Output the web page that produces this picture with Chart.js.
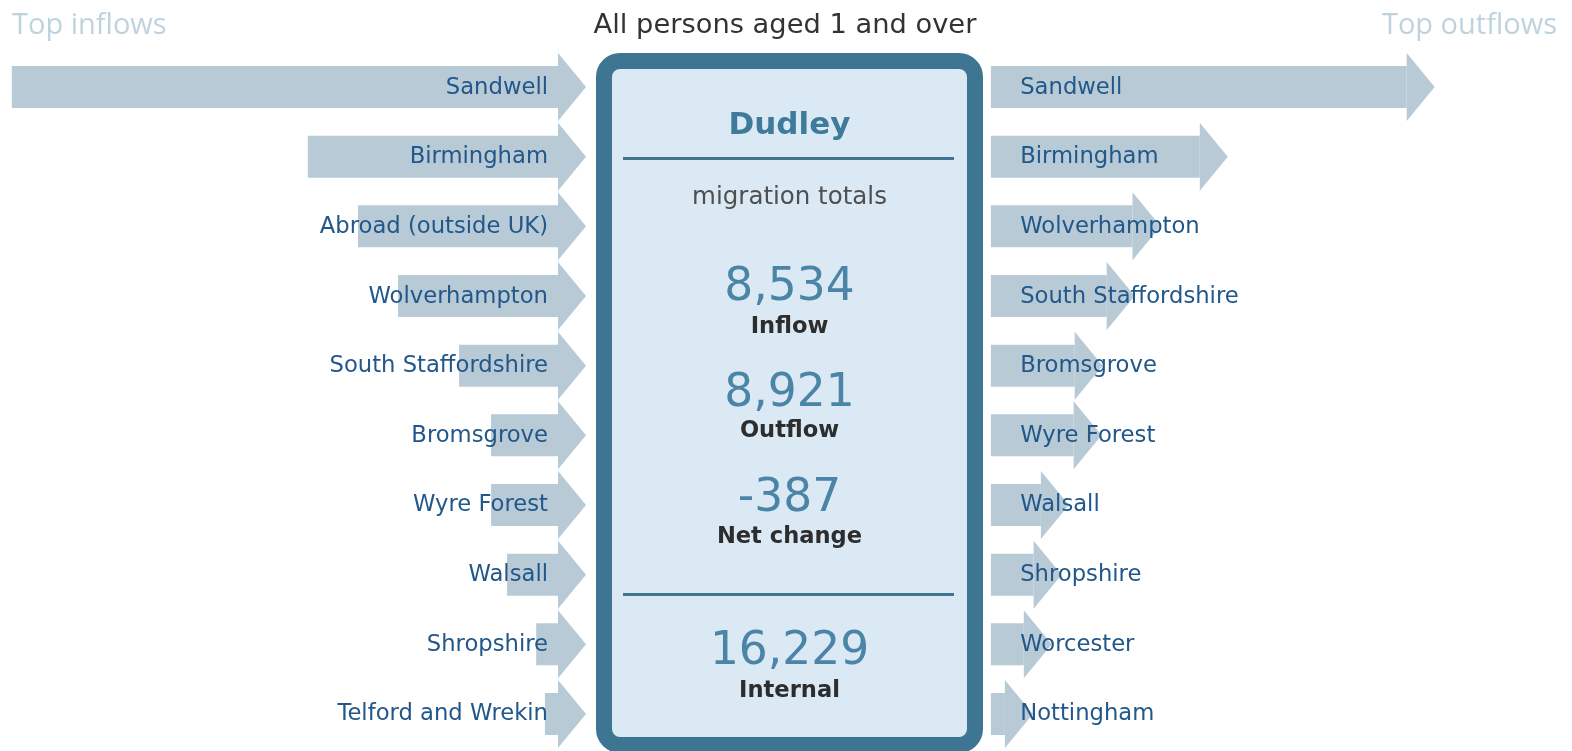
<!DOCTYPE html>
<html>
<head>
<meta charset="utf-8">
<script src="https://cdn.jsdelivr.net/npm/chart.js@4"></script>
<style>
  html, body { margin: 0; padding: 0; background: #ffffff; }
  body { width: 1572px; height: 751px; position: relative; overflow: hidden; font-family: "DejaVu Sans", Verdana, sans-serif; }
  .abs { position: absolute; white-space: nowrap; }
  #leftWrap { position: absolute; left: 0; top: 0; width: 600px; height: 751px; }
  #rightWrap { position: absolute; left: 980px; top: 0; width: 592px; height: 751px; }
  .hdr { font-family: "Open Sans", "Noto Sans", sans-serif; font-size: 29px; line-height: 29px; color: #bfd3df; top: 7.5px; }
  #title { left: 0; width: 1572px; text-align: center; font-size: 27.3px; line-height: 27.3px; color: #333333; top: 10px; }
  #title span { position: relative; left: -1px; }
  #box { position: absolute; left: 596px; top: 53px; width: 387px; height: 700px; box-sizing: border-box;
         border: 16.5px solid #3d7592; border-radius: 24px; background: #dae9f4; }
  .ctr { left: 596px; width: 387px; text-align: center; }
  .rule { position: absolute; left: 623px; width: 331px; height: 3px; background: #3d7592; }
  .big { font-size: 45.5px; line-height: 45.5px; color: #4a84a6; }
  .cap { font-size: 22.6px; line-height: 22.6px; font-weight: bold; color: #2d2d2d; }
</style>
</head>
<body>
<div id="leftWrap"><canvas id="leftChart" width="600" height="751"></canvas></div>
<div id="rightWrap"><canvas id="rightChart" width="592" height="751"></canvas></div>

<div class="abs hdr" style="left:12px;">Top inflows</div>
<div class="abs hdr" style="right:15px;">Top outflows</div>
<div class="abs" id="title"><span id="titleText"></span></div>

<div id="box"></div>
<div class="abs ctr" id="areaName" style="top:107.8px; font-size:31px; line-height:31px; font-weight:bold; color:#3e7b9b;"></div>
<div class="rule" style="top:157px;"></div>
<div class="abs ctr" id="subTitle" style="top:184.3px; font-size:24.5px; line-height:24.5px; color:#4f4f4f;"></div>
<div class="abs ctr big" id="vIn" style="top:261.5px;"></div>
<div class="abs ctr cap" id="lIn" style="top:314.2px;"></div>
<div class="abs ctr big" id="vOut" style="top:367.5px;"></div>
<div class="abs ctr cap" id="lOut" style="top:417.6px;"></div>
<div class="abs ctr big" id="vNet" style="top:472.5px;"></div>
<div class="abs ctr cap" id="lNet" style="top:524.2px;"></div>
<div class="rule" style="top:592.5px;"></div>
<div class="abs ctr big" id="vInt" style="top:625.8px;"></div>
<div class="abs ctr cap" id="lInt" style="top:677.6px;"></div>

<script>
// ---------------- DATA ----------------
const chartTitle = "All persons aged 1 and over";
const areaName = "Dudley";
const summaryTitle = "migration totals";

const inflowLabels = ["Sandwell", "Birmingham", "Abroad (outside UK)", "Wolverhampton", "South Staffordshire",
                      "Bromsgrove", "Wyre Forest", "Walsall", "Shropshire", "Telford and Wrekin"];
const inflowValues = [1502, 688, 550, 440, 272, 184, 184, 140, 60, 36];

const outflowLabels = ["Sandwell", "Birmingham", "Wolverhampton", "South Staffordshire", "Bromsgrove",
                       "Wyre Forest", "Walsall", "Shropshire", "Worcester", "Nottingham"];
const outflowValues = [1144, 575, 390, 319, 231, 228, 138, 118, 91, 39];

const summaryLabels = ["Inflow", "Outflow", "Net change", "Internal"];
const summaryValues = [8534, 8921, -387, 16229];

const scaleMax = 1534.5;   // common value scale for both sides
// --------------------------------------

const fmt = v => v.toLocaleString("en-GB");
document.getElementById("titleText").textContent = chartTitle;
document.getElementById("areaName").textContent = areaName;
document.getElementById("subTitle").textContent = summaryTitle;
["vIn", "vOut", "vNet", "vInt"].forEach((id, i) => document.getElementById(id).textContent = fmt(summaryValues[i]));
["lIn", "lOut", "lNet", "lInt"].forEach((id, i) => document.getElementById(id).textContent = summaryLabels[i]);

const BAR_COLOR = "#b8cad6";
const LABEL_COLOR = "#22578a";

const arrowPlugin = {
  id: "arrowHeads",
  afterDatasetsDraw(chart, args, opts) {
    const ctx = chart.ctx;
    const meta = chart.getDatasetMeta(0);
    ctx.save();
    ctx.fillStyle = BAR_COLOR;
    meta.data.forEach(bar => {
      const start = opts.side === "left" ? bar.base : bar.x;
      ctx.beginPath();
      ctx.moveTo(start, bar.y - 34);
      ctx.lineTo(start + 28, bar.y);
      ctx.lineTo(start, bar.y + 34);
      ctx.closePath();
      ctx.fill();
    });
    ctx.font = '22.7px "DejaVu Sans", Verdana, sans-serif';
    ctx.fillStyle = LABEL_COLOR;
    ctx.textBaseline = "alphabetic";
    meta.data.forEach((bar, i) => {
      const label = chart.data.labels[i];
      if (opts.side === "left") {
        ctx.textAlign = "right";
        ctx.fillText(label, bar.base - 10, bar.y + 6.5);
      } else {
        ctx.textAlign = "left";
        ctx.fillText(label, bar.base + 29.5, bar.y + 6.5);
      }
    });
    ctx.restore();
  }
};

function makeChart(id, labels, values, side, padding) {
  return new Chart(document.getElementById(id), {
    type: "bar",
    data: {
      labels: labels,
      datasets: [{
        data: values,
        backgroundColor: BAR_COLOR,
        borderWidth: 0,
        barPercentage: 0.603,
        categoryPercentage: 1.0
      }]
    },
    options: {
      indexAxis: "y",
      responsive: false,
      animation: false,
      devicePixelRatio: 1,
      layout: { padding: padding },
      scales: {
        x: { type: "linear", min: 0, max: scaleMax, reverse: side === "left", display: false },
        y: { type: "category", display: false }
      },
      plugins: {
        legend: { display: false },
        tooltip: { enabled: false },
        arrowHeads: { side: side }
      }
    },
    plugins: [arrowPlugin]
  });
}

makeChart("leftChart", inflowLabels, inflowValues, "left", { left: 0, right: 42, top: 52.2, bottom: 2.2 });
makeChart("rightChart", outflowLabels, outflowValues, "right", { left: 10.7, right: 23.3, top: 52.2, bottom: 2.2 });
</script>
</body>
</html>
